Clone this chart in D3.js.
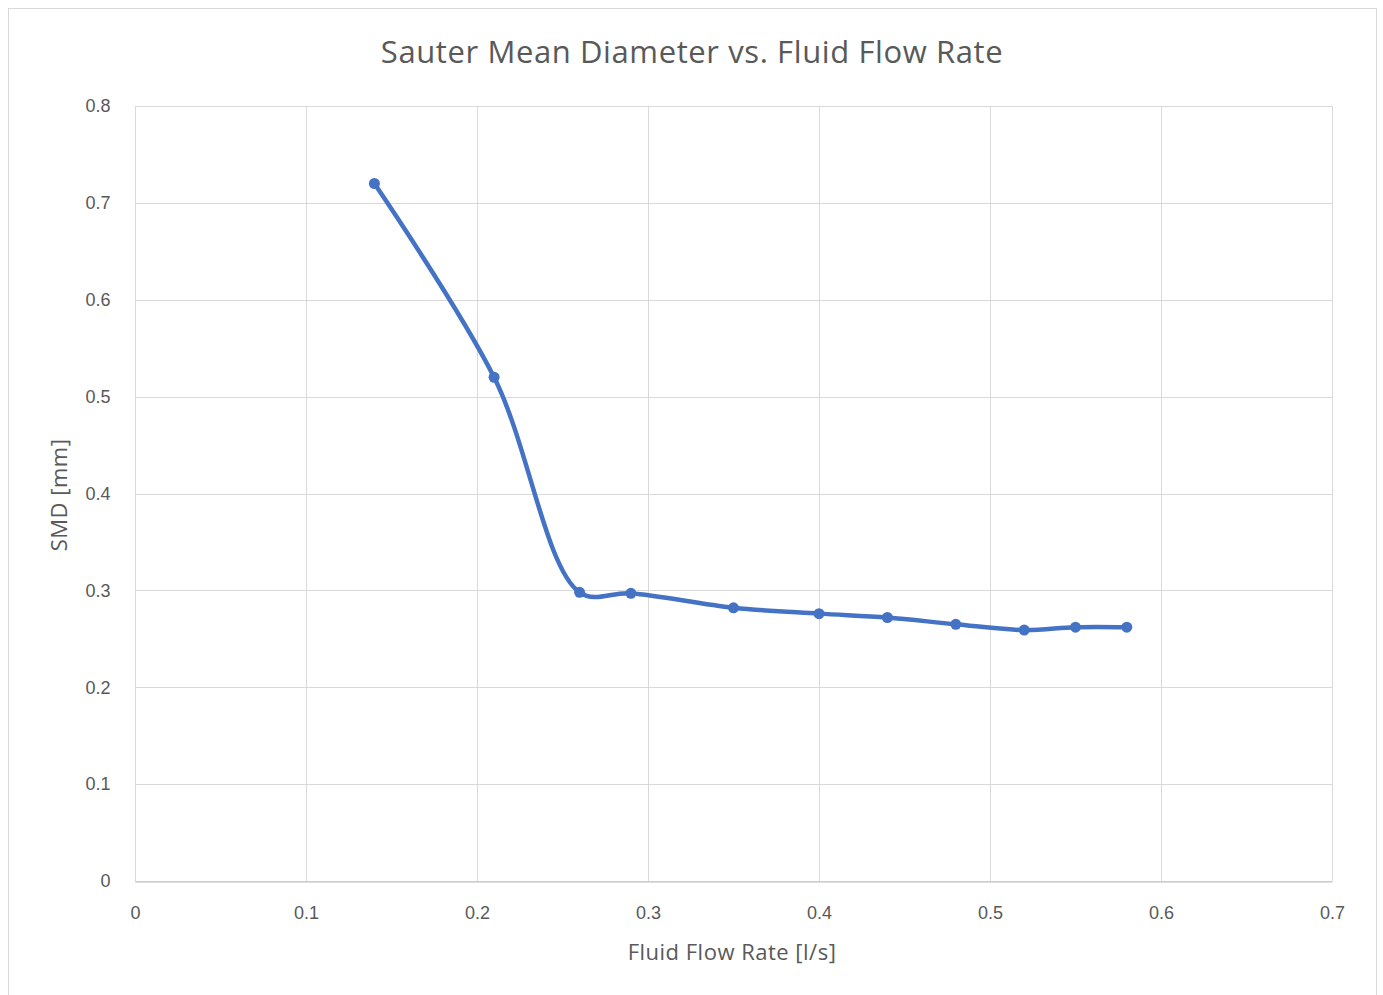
<!DOCTYPE html>
<html>
<head>
<meta charset="utf-8">
<style>
  body { margin: 0; background: #fff; }
  svg { display: block; font-family: "Open Sans", "Noto Sans", sans-serif; }
</style>
</head>
<body>
<div id="chart"></div>
<script src="https://d3js.org/d3.v7.min.js"></script>
<script>
// data
var flowRate = [0.14, 0.21, 0.26, 0.29, 0.35, 0.40, 0.44, 0.48, 0.52, 0.55, 0.58];
var smd      = [0.72, 0.52, 0.298, 0.297, 0.282, 0.276, 0.272, 0.265, 0.259, 0.262, 0.262];
var xTicks = [0, 0.1, 0.2, 0.3, 0.4, 0.5, 0.6, 0.7];
var yTicks = [0, 0.1, 0.2, 0.3, 0.4, 0.5, 0.6, 0.7, 0.8];

var W = 1383, H = 995;
var plot = {left: 135, right: 1332, top: 106, bottom: 881};
var textColor = "#595959";
var gridColor = "#d9d9d9";
var lineColor = "#4472c4";

var svg = d3.select("#chart").append("svg")
  .attr("width", W)
  .attr("height", H);

// outer chart border
svg.append("rect")
  .attr("x", 8.5).attr("y", 8.5)
  .attr("width", 1368).attr("height", 1000)
  .attr("fill", "#fff")
  .attr("stroke", "#d9d9d9");

var x = d3.scaleLinear().domain([0, 0.7]).range([plot.left, plot.right]);
var y = d3.scaleLinear().domain([0, 0.8]).range([plot.bottom, plot.top]);

// gridlines
svg.append("g").selectAll("line.h")
  .data(yTicks)
  .enter().append("line")
  .attr("x1", plot.left).attr("x2", plot.right)
  .attr("y1", function(d) { return Math.round(y(d)) + 0.5; })
  .attr("y2", function(d) { return Math.round(y(d)) + 0.5; })
  .attr("stroke", gridColor);

svg.append("g").selectAll("line.v")
  .data(xTicks)
  .enter().append("line")
  .attr("y1", plot.top).attr("y2", plot.bottom)
  .attr("x1", function(d) { return Math.round(x(d)) + 0.5; })
  .attr("x2", function(d) { return Math.round(x(d)) + 0.5; })
  .attr("stroke", gridColor);

// axes (labels only, Excel style)
var fmt = function(d) { return d === 0 ? "0" : d3.format(".1f")(d); };

var xAxis = svg.append("g")
  .attr("transform", "translate(0," + (plot.bottom + 0.5) + ")")
  .call(d3.axisBottom(x).tickValues(xTicks).tickSize(0).tickPadding(25).tickFormat(fmt));
xAxis.select(".domain").attr("stroke", "#bfbfbf");
xAxis.selectAll("text").attr("fill", textColor).attr("font-size", 18);

var yAxis = svg.append("g")
  .attr("transform", "translate(" + (plot.left - 0.5) + ",0)")
  .call(d3.axisLeft(y).tickValues(yTicks).tickSize(0).tickPadding(24).tickFormat(fmt));
yAxis.select(".domain").remove();
yAxis.selectAll("text").attr("fill", textColor).attr("font-size", 18);

// smoothed line
var pts = flowRate.map(function(v, i) { return [v, smd[i]]; });
var line = d3.line()
  .x(function(d) { return x(d[0]); })
  .y(function(d) { return y(d[1]); })
  .curve(d3.curveCatmullRom.alpha(0.5));

svg.append("path")
  .datum(pts)
  .attr("fill", "none")
  .attr("stroke", lineColor)
  .attr("stroke-width", 4.5)
  .attr("stroke-linejoin", "round")
  .attr("d", line);

svg.append("g").selectAll("circle")
  .data(pts)
  .enter().append("circle")
  .attr("cx", function(d) { return x(d[0]); })
  .attr("cy", function(d) { return y(d[1]); })
  .attr("r", 5.5)
  .attr("fill", lineColor);

// titles
svg.append("text")
  .attr("x", 692).attr("y", 63)
  .attr("text-anchor", "middle")
  .attr("font-size", 31)
  .attr("letter-spacing", 0.6)
  .attr("fill", textColor)
  .text("Sauter Mean Diameter vs. Fluid Flow Rate");

svg.append("text")
  .attr("x", 732).attr("y", 960)
  .attr("text-anchor", "middle")
  .attr("font-size", 22)
  .attr("letter-spacing", 0.5)
  .attr("fill", textColor)
  .text("Fluid Flow Rate [l/s]");

svg.append("text")
  .attr("transform", "translate(67,495) rotate(-90)")
  .attr("text-anchor", "middle")
  .attr("font-size", 22)
  .attr("letter-spacing", 0.5)
  .attr("fill", textColor)
  .text("SMD [mm]");
</script>
</body>
</html>
